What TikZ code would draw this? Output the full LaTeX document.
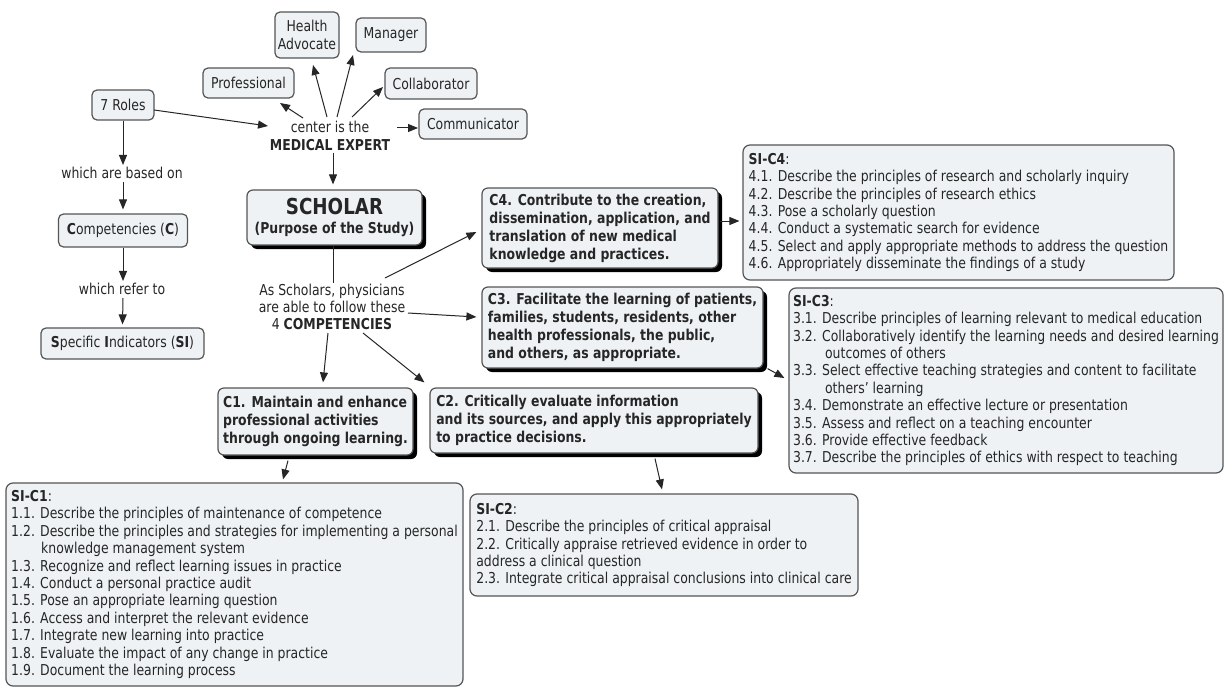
\documentclass[tikz,border=0pt]{standalone}
\usepackage{fontspec}
\setmainfont{DejaVu Sans}[FakeStretch=0.83]
\usetikzlibrary{arrows.meta,shadows,calc}
\definecolor{boxfill}{HTML}{EEF2F4}
\definecolor{boxline}{HTML}{555555}
\definecolor{ink}{HTML}{262626}
\tikzset{
  base/.style={font=\fontsize{15}{17.4}\selectfont, text=ink},
  role/.style={base, draw=boxline, fill=boxfill, line width=1.2pt,
    rounded corners=5pt, inner sep=2pt, align=center},
  plain/.style={base, inner sep=1pt, align=center},
  compbox/.style={base, draw=boxline, fill=boxfill, line width=1.2pt,
    rounded corners=6pt, inner sep=3pt, align=left,
    font=\fontsize{15}{18}\selectfont\bfseries,
    drop shadow={shadow xshift=4pt, shadow yshift=-4pt, fill=black, opacity=1}},
  listbox/.style={base, draw=boxline, fill=boxfill, line width=1.2pt,
    rounded corners=7pt, inner sep=3pt, align=left},
  arr/.style={-{Triangle[length=10pt,width=8pt]}, line width=1pt, draw=black!85},
  link/.style={line width=1pt, draw=black!85}
}
\begin{document}
\begin{tikzpicture}[x=1pt, y=-1pt]
\fill[white] (0,0) rectangle (1225,687);
\useasboundingbox (0,0) rectangle (1225,687);

% the seven roles around the medical expert
\node[role, minimum width=64pt, minimum height=46pt] (hadv) at (307,35) {Health\\Advocate};
\node[role, minimum width=70pt, minimum height=34pt] (mgr) at (391,35) {Manager};
\node[role, minimum width=91pt, minimum height=30pt] (prof) at (248.5,83) {Professional};
\node[role, minimum width=92pt, minimum height=31pt] (collab) at (431,83.5) {Collaborator};
\node[role, minimum width=108pt, minimum height=30pt] (comm) at (473,124) {Communicator};
\node[role, minimum width=62pt, minimum height=30pt] (roles7) at (123,105) {7 Roles};
\node[plain] (med) at (330,136) {center is the\\\textbf{MEDICAL EXPERT}};

% left column
\node[plain] (based) at (122,173) {which are based on};
\node[role, minimum width=129pt, minimum height=33pt] (comp) at (123,230.5) {\textbf{C}ompetencies (\textbf{C})};
\node[plain] (refer) at (122,289) {which refer to};
\node[role, minimum width=163pt, minimum height=31pt] (spec) at (122.5,343.5) {\textbf{S}pecific \textbf{I}ndicators (\textbf{SI})};

% scholar and the four competencies
\node[compbox, align=center, minimum width=175pt, minimum height=55pt, inner sep=1pt] (scholar) at (334.5,217.5)
  {{\fontsize{22}{22}\selectfont SCHOLAR}\\[1pt](Purpose of the Study)};
\node[plain] (as) at (332,307) {As Scholars, physicians\\are able to follow these\\4 \textbf{COMPETENCIES}};

\node[compbox, minimum width=236pt, minimum height=80pt] (c4) at (600,228)
  {C4. Contribute to the creation,\\dissemination, application, and\\translation of new medical\\knowledge and practices.};
\node[compbox, minimum width=281pt, minimum height=81pt] (c3) at (622.5,327.5)
  {C3. Facilitate the learning of patients,\\families, students, residents, other\\health professionals, the public,\\and others, as appropriate.};
\node[compbox, minimum width=195pt, minimum height=67pt] (c1) at (315.5,421.5)
  {C1. Maintain and enhance\\professional activities\\through ongoing learning.};
\node[compbox, minimum width=328pt, minimum height=65pt] (c2) at (594,420.5)
  {C2. Critically evaluate information\\and its sources, and apply this appropriately\\to practice decisions.};

% specific indicators
\node[listbox, minimum width=431pt, minimum height=135pt] (sic4) at (958.5,212.5)
  {\textbf{SI-C4}:\\
   4.1. Describe the principles of research and scholarly inquiry\\
   4.2. Describe the principles of research ethics\\
   4.3. Pose a scholarly question\\
   4.4. Conduct a systematic search for evidence\\
   4.5. Select and apply appropriate methods to address the question\\
   4.6. Appropriately disseminate the findings of a study};
\node[listbox, minimum width=434pt, minimum height=185pt] (sic3) at (1006,380.5)
  {\textbf{SI-C3}:\\
   3.1. Describe principles of learning relevant to medical education\\
   3.2. Collaboratively identify the learning needs and desired learning\\
   \hspace*{32pt}outcomes of others\\
   3.3. Select effective teaching strategies and content to facilitate\\
   \hspace*{32pt}others’ learning\\
   3.4. Demonstrate an effective lecture or presentation\\
   3.5. Assess and reflect on a teaching encounter\\
   3.6. Provide effective feedback\\
   3.7. Describe the principles of ethics with respect to teaching};
\node[listbox, minimum width=457pt, minimum height=203pt] (sic1) at (234.5,584.5)
  {\textbf{SI-C1}:\\
   1.1. Describe the principles of maintenance of competence\\
   1.2. Describe the principles and strategies for implementing a personal\\
   \hspace*{30pt}knowledge management system\\
   1.3. Recognize and reflect learning issues in practice\\
   1.4. Conduct a personal practice audit\\
   1.5. Pose an appropriate learning question\\
   1.6. Access and interpret the relevant evidence\\
   1.7. Integrate new learning into practice\\
   1.8. Evaluate the impact of any change in practice\\
   1.9. Document the learning process};
\node[listbox, minimum width=388pt, minimum height=102pt] (sic2) at (664,545)
  {\textbf{SI-C2}:\\
   2.1. Describe the principles of critical appraisal\\
   2.2. Critically appraise retrieved evidence in order to\\
   address a clinical question\\
   2.3. Integrate critical appraisal conclusions into clinical care};

% connectors: roles
\draw[arr] ($(roles7.center)+(31,5)$) -- ($(med.center)+(-62,-10)$);
\draw[arr] ($(med.center)+(-27,-18)$) -- ($(prof.center)+(31.5,20)$);
\draw[arr] ($(med.center)+(-3,-19)$) -- ($(hadv.center)+(6,30)$);
\draw[arr] ($(med.center)+(7,-19)$) -- ($(mgr.center)+(-38,20)$);
\draw[arr] ($(med.center)+(22,-19)$) -- ($(collab.center)+(-48,3.5)$);
\draw[arr] ($(med.center)+(67,-8)$) -- ($(comm.center)+(-55,4)$);
\draw[arr] ($(med.center)+(3,17)$) -- ($(scholar.north)+(-1.5,-5)$);

% connectors: left column
\draw[arr] (roles7.south) -- ($(based.north)+(1,-1)$);
\draw[arr] ($(based.south)+(1,2)$) -- ($(comp.north)+(0,-4)$);
\draw[arr] (comp.south) -- ($(refer.north)+(1,-1)$);
\draw[arr] ($(refer.south)+(1,2)$) -- ($(spec.north)+(0,-3)$);

% connectors: competencies
\draw[link] ($(scholar.south)+(-1.5,0)$) -- ($(as.north)+(1,0)$);
\draw[arr] ($(as.center)+(53,-29)$) -- ($(c4.west)+(-5,4)$);
\draw[arr] ($(as.center)+(76,6)$) -- ($(c3.west)+(-5,-10.5)$);
\draw[arr] ($(as.center)+(-4,26)$) -- ($(c1.north)+(7.5,-5)$);
\draw[arr] ($(as.center)+(31,26)$) -- ($(c2.north west)+(-5,-5)$);

% connectors: competencies to indicators
\draw[arr] ($(c4.east)+(1,-7)$) -- ($(sic4.west)+(-3,8.5)$);
\draw[arr] ($(c3.south east)+(4,0)$) -- ($(sic3.west)+(-4,-2.5)$);
\draw[arr] ($(c1.south)+(-27.5,5)$) -- ($(sic1.north)+(48.5,-3)$);
\draw[arr] ($(c2.south)+(61,5)$) -- ($(sic2.north)+(-2,-4)$);
\end{tikzpicture}
\end{document}
